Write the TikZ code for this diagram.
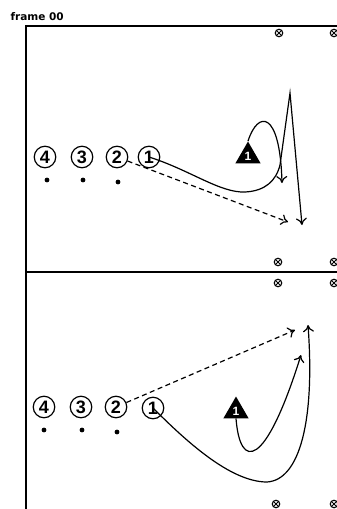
\documentclass[tikz,border=0pt]{standalone}
\usepackage{fontspec}
\setmainfont{Liberation Sans}
\newfontfamily\titlefont{DejaVu Sans}
\usetikzlibrary{arrows.meta,shapes.geometric}

\begin{document}
\begin{tikzpicture}[x=1pt, y=-1pt,
  every node/.style={text=black},
  player/.style={circle, draw, fill=white, line width=1.2pt, inner sep=0pt,
                 minimum size=21.5pt, font=\fontsize{18}{18}\selectfont\bfseries},
  spot/.style  ={circle, fill=black, inner sep=0pt, minimum size=4.8pt},
  cone/.style  ={circle, draw, line width=1.1pt, inner sep=0pt, minimum size=7.5pt,
                 path picture={\draw[line width=1pt]
                   (path picture bounding box.north west) -- (path picture bounding box.south east)
                   (path picture bounding box.north east) -- (path picture bounding box.south west);}},
  defender/.style={regular polygon, regular polygon sides=3, fill=black, inner sep=0pt,
                 minimum size=29pt, text=white, font=\fontsize{12}{12}\selectfont\bfseries},
  run/.style   ={-{To[length=7pt,width=11pt]}, line width=1.2pt},
  pass/.style  ={run, dash pattern=on 5pt off 3.5pt},
  field/.style ={line width=1.5pt},
]
\useasboundingbox (0,0) rectangle (337,509);
\node[anchor=base west, font=\titlefont\fontsize{10.5}{12}\selectfont\bfseries] (title) at (7,20) {frame 00};
% field lines
\coordinate (tl) at (26,26);
\coordinate (tr) at (337,26);
\coordinate (ml) at (26,272);
\coordinate (mr) at (337,272);
\coordinate (bl) at (26,509);
\draw[field] (tr) -- (tl) -- (bl);
\draw[field] (ml) -- (mr);
% cones
\foreach \name/\x/\y in {ca/279/33, cb/334/33, cc/278/262, cd/334/262,
                         ce/278/283, cf/334/283, cg/276/504, ch/334/504}
  {\node[cone] (\name) at (\x,\y) {};}

% top drill
\node[player] (p4) at (45,157) {4};
\node[player] (p3) at (82,157) {3};
\node[player] (p2) at (117,157) {2};
\node[player] (p1) at (149,157) {1};
\node[spot] (s4) at (47,180) {};
\node[spot] (s3) at (83,180) {};
\node[spot] (s2) at (118,182) {};
\node[defender] (d1) at (248,156) {1};
\coordinate (passend) at (288,222);
\coordinate (runend) at (302,225);
\coordinate (defend) at (282,183);
\draw[pass] (p2) -- (passend);
\draw[run] (p1.center) .. controls (190,170) and (220,193) .. (245,192)
  .. controls (265,191) and (276,181) .. (280,165) -- (290,93) -- (runend);
\draw[run] (d1.corner 1) .. controls (258,110) and (280,110) .. (defend);

% bottom drill
\node[player] (q4) at (44,407) {4};
\node[player] (q3) at (81,407) {3};
\node[player] (q2) at (116,407) {2};
\node[player] (q1) at (153,408) {1};
\node[spot] (t4) at (44,430) {};
\node[spot] (t3) at (82,430) {};
\node[spot] (t2) at (117,432) {};
\node[defender] (d2) at (236,411) {1};
\coordinate (passend2) at (295,330);
\coordinate (runend2) at (308,325);
\coordinate (defend2) at (301,355);
\draw[pass] (q2) -- (passend2);
\draw[run] (q1.center) .. controls (185,440) and (230,482) .. (267,482)
  .. controls (300,480) and (315,420) .. (runend2);
\draw[run] (d2.south) .. controls (240,470) and (265,470) .. (defend2);
\end{tikzpicture}
\end{document}
